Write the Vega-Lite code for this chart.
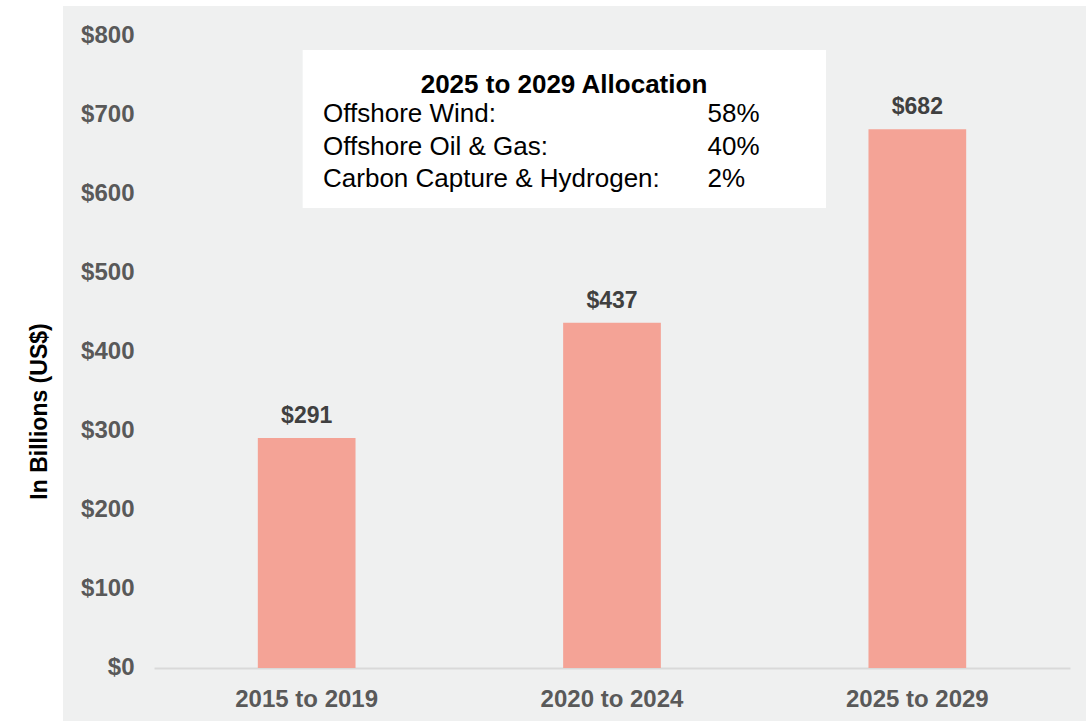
{
  "$schema": "https://vega.github.io/schema/vega-lite/v6.json",
  "width": 1023,
  "height": 715,
  "autosize": {"type": "none"},
  "padding": {"left": 63, "top": 6, "right": 0, "bottom": 0},
  "background": "#ffffff",
  "config": {
    "view": {"fill": "#eff0f0", "stroke": null},
    "font": "Liberation Sans"
  },
  "datasets": {
    "investment": [
      {"period": "2015 to 2019", "value": 291},
      {"period": "2020 to 2024", "value": 437},
      {"period": "2025 to 2029", "value": 682}
    ],
    "note": [
      {"heading": "2025 to 2029 Allocation"}
    ],
    "allocation": [
      {"segment": "Offshore Wind:", "share": "58%"},
      {"segment": "Offshore Oil & Gas:", "share": "40%"},
      {"segment": "Carbon Capture & Hydrogen:", "share": "2%"}
    ]
  },
  "layer": [
    {
      "data": {"name": "investment"},
      "encoding": {
        "x": {
          "field": "period",
          "type": "nominal",
          "sort": null,
          "scale": {"range": [91, 1007], "paddingInner": 0.68, "paddingOuter": 0.34},
          "axis": {
            "title": null,
            "labelAngle": 0,
            "labelFont": "Liberation Sans",
            "labelFontSize": 24,
            "labelFontWeight": "bold",
            "labelColor": "#595959",
            "ticks": false,
            "tickSize": 0,
            "labelPadding": 19,
            "domainColor": "#d9d9d9",
            "domainWidth": 2,
            "offset": -53
          }
        },
        "y": {
          "field": "value",
          "type": "quantitative",
          "scale": {"domain": [-67.09, 837.97], "nice": false, "zero": false},
          "axis": {
            "title": "In Billions (US$)",
            "values": [0, 100, 200, 300, 400, 500, 600, 700, 800],
            "format": "$,.0f",
            "grid": false,
            "ticks": false,
            "tickSize": 0,
            "domain": false,
            "labelFont": "Liberation Sans",
            "labelFontSize": 24,
            "labelFontWeight": "bold",
            "labelColor": "#595959",
            "labelPadding": 9,
            "offset": -80,
            "titleFont": "Liberation Sans",
            "titleFontSize": 23,
            "titleFontWeight": "bold",
            "titleColor": "#000000",
            "titleAngle": 270,
            "titleAlign": "center",
            "titleBaseline": "middle",
            "titleX": -104,
            "titleY": 405
          }
        }
      },
      "layer": [
        {"mark": {"type": "bar", "color": "#f4a396"}},
        {
          "mark": {
            "type": "text",
            "baseline": "alphabetic",
            "dy": -15,
            "fontSize": 23,
            "fontWeight": "bold",
            "color": "#404040",
            "font": "Liberation Sans"
          },
          "encoding": {"text": {"field": "value", "type": "quantitative", "format": "$,.0f"}}
        }
      ]
    },
    {
      "data": {"name": "note"},
      "mark": {"type": "rect", "color": "#ffffff"},
      "encoding": {
        "x": {"datum": 0.2343, "type": "quantitative", "scale": {"domain": [0, 1], "nice": false, "zero": false}, "axis": null},
        "x2": {"datum": 0.7458},
        "y": {"datum": 782.3, "type": "quantitative", "scale": {"domain": [-67.09, 837.97], "nice": false, "zero": false}, "axis": null},
        "y2": {"datum": 582.3}
      }
    },
    {
      "data": {"name": "note"},
      "mark": {"type": "text", "align": "center", "baseline": "alphabetic", "fontSize": 26, "fontWeight": "bold", "color": "#000000", "font": "Liberation Sans"},
      "encoding": {
        "x": {"datum": 0.4897, "type": "quantitative", "scale": {"domain": [0, 1], "nice": false, "zero": false}, "axis": null},
        "y": {"datum": 727.8, "type": "quantitative", "scale": {"domain": [-67.09, 837.97], "nice": false, "zero": false}, "axis": null},
        "text": {"field": "heading"}
      }
    },
    {
      "data": {"name": "allocation"},
      "mark": {"type": "text", "align": "left", "baseline": "alphabetic", "fontSize": 26, "color": "#000000", "font": "Liberation Sans"},
      "encoding": {
        "x": {"datum": 0.2542, "type": "quantitative", "scale": {"domain": [0, 1], "nice": false, "zero": false}, "axis": null},
        "y": {"field": "segment", "type": "nominal", "sort": null, "scale": {"type": "point", "range": [116, 181], "padding": 0}, "axis": null},
        "text": {"field": "segment"}
      }
    },
    {
      "data": {"name": "allocation"},
      "mark": {"type": "text", "align": "left", "baseline": "alphabetic", "fontSize": 26, "color": "#000000", "font": "Liberation Sans"},
      "encoding": {
        "x": {"datum": 0.63, "type": "quantitative", "scale": {"domain": [0, 1], "nice": false, "zero": false}, "axis": null},
        "y": {"field": "segment", "type": "nominal", "sort": null, "scale": {"type": "point", "range": [116, 181], "padding": 0}, "axis": null},
        "text": {"field": "share"}
      }
    }
  ],
  "resolve": {"scale": {"x": "independent", "y": "independent"}}
}
